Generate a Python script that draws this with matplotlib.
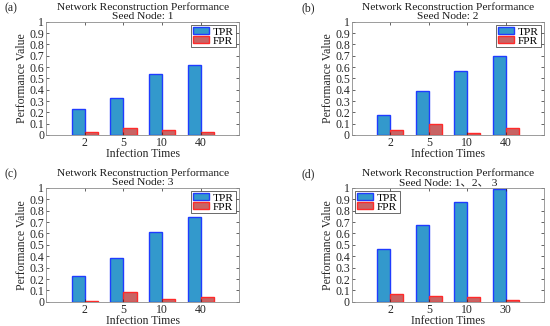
import numpy as np
import matplotlib.pyplot as plt

plt.rcParams['font.family'] = ['Liberation Serif', 'Noto Sans CJK SC']
plt.rcParams['font.size'] = 8

# data
infection_abc = ['2', '5', '10', '40']
infection_d = ['2', '5', '10', '30']

tpr_a = [0.23, 0.33, 0.54, 0.62]
fpr_a = [0.03, 0.065, 0.045, 0.03]
tpr_b = [0.18, 0.385, 0.565, 0.695]
fpr_b = [0.045, 0.10, 0.02, 0.065]
tpr_c = [0.23, 0.385, 0.615, 0.745]
fpr_c = [0.01, 0.09, 0.025, 0.045]
tpr_d = [0.465, 0.67, 0.875, 0.985]
fpr_d = [0.065, 0.055, 0.045, 0.02]

seed_names = ['1', '2', '3', '1、2、 3']
panel_tags = ['(a)', '(b)', '(c)', '(d)']

panels = [
    (infection_abc, tpr_a, fpr_a, 'upper right'),
    (infection_abc, tpr_b, fpr_b, 'upper right'),
    (infection_abc, tpr_c, fpr_c, 'upper right'),
    (infection_d, tpr_d, fpr_d, 'upper left'),
]

# axes boxes in figure fractions [left, bottom, width, height]
boxes = [
    [0.084, 0.586, 0.351, 0.347],
    [0.640, 0.586, 0.349, 0.347],
    [0.084, 0.074, 0.351, 0.350],
    [0.640, 0.074, 0.349, 0.350],
]
tag_pos = [(0.008, 0.965), (0.548, 0.965), (0.008, 0.455), (0.548, 0.455)]

fig = plt.figure(figsize=(5.5, 3.26), dpi=100)

w = 0.34
for i in range(4):
    cats, tpr, fpr, loc = panels[i]
    ax = fig.add_axes(boxes[i])
    x = np.arange(1, len(cats) + 1)
    ax.bar(x - w / 2, tpr, w, color='#3399cc', edgecolor='#1f3cff', linewidth=1.0, label='TPR')
    ax.bar(x + w / 2, fpr, w, color='#c86464', edgecolor='#ff2a2a', linewidth=1.0, label='FPR')
    ax.set_xlim(0, 5)
    ax.set_ylim(0, 1)
    ax.set_xticks(x)
    ax.set_xticklabels(cats)
    ax.set_yticks(np.arange(0, 1.01, 0.1))
    ax.set_yticklabels(['0'] + ['%.1f' % v for v in np.arange(0.1, 0.95, 0.1)] + ['1'])
    ax.tick_params(direction='in', length=2.5, width=0.5, top=True, right=True,
                   labelsize=8.5, colors='#262626', pad=1.5)
    for s in ax.spines.values():
        s.set_color('#8c8c8c')
        s.set_linewidth(0.6)
    ax.set_xlabel('Infection Times', fontsize=8.5, color='#262626', labelpad=-1)
    ax.set_ylabel('Performance Value', fontsize=8.5, color='#262626', labelpad=1)
    ax.set_title('Network Reconstruction Performance\nSeed Node: ' + seed_names[i],
                 fontsize=8.2, color='#1a1a1a', pad=2, linespacing=0.95)
    leg = ax.legend(loc=loc, fontsize=8.2, frameon=True, fancybox=False,
                    borderpad=0.15, handlelength=1.4, handleheight=0.6,
                    handletextpad=0.35, labelspacing=-0.05, borderaxespad=0.3)
    leg.get_frame().set_edgecolor('#262626')
    leg.get_frame().set_linewidth(0.6)
    fig.text(tag_pos[i][0], tag_pos[i][1], panel_tags[i], fontsize=8.5, color='#262626')

fig.savefig('out.png', dpi=100)
